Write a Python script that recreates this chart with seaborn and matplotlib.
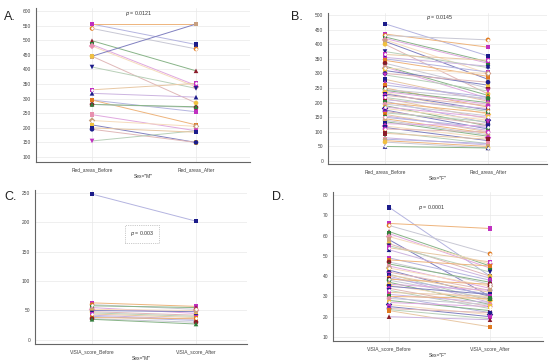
#!/usr/bin/env python3
"""
Paired before/after plots (Red areas, VISIA score) split by sex - 4 panels
"""

import numpy as np
import pandas as pd
import matplotlib
matplotlib.use('Agg')
import matplotlib.pyplot as plt
import seaborn as sns

# Panel A: Red areas, Sex = M
A_before = [555, 555, 540, 498, 485, 480, 445, 445, 408, 330, 318, 295, 295, 280,
            280, 245, 225, 210, 195, 155, 200]
A_after = [485, 555, 470, 395, 345, 340, 555, 285, 335, 352, 305, 255, 210, 270,
           272, 190, 205, 150, 150, 190, 185]

# Panel B: Red areas, Sex = F
B_before = [470, 435, 430, 425, 420, 415, 410, 400, 375, 365, 355, 350, 345, 335,
            325, 322, 318, 310, 300, 295, 280, 270, 260, 250, 245, 242, 238, 235,
            230, 225, 218, 215, 210, 205, 200, 195, 190, 185, 180, 175, 170, 165,
            160, 155, 150, 145, 140, 135, 128, 120, 115, 110, 100, 95, 80, 75, 70,
            65, 50]
B_after = [360, 390, 415, 340, 335, 300, 280, 230, 320, 345, 325, 305, 290, 250,
           225, 215, 300, 260, 270, 240, 205, 210, 220, 185, 215, 200, 195, 160,
           175, 190, 170, 145, 180, 130, 165, 155, 120, 150, 140, 110, 125, 135,
           100, 105, 115, 95, 90, 85, 120, 80, 70, 100, 60, 75, 55, 60, 50, 45, 45]

# Panel C: VISIA score, Sex = M
C_before = [248, 63, 60, 58, 55, 52, 50, 48, 46, 44, 42, 40, 38, 36, 35]
C_after = [202, 57, 52, 55, 45, 50, 48, 42, 40, 38, 35, 33, 36, 30, 27]

# Panel D: VISIA score, Sex = F
D_before = [74, 66, 65, 62, 61, 59.5, 58, 56, 55, 54, 53, 49, 48, 47, 46, 45, 44,
            43, 42, 41, 40.5, 40, 39, 38.5, 38, 37, 36, 35.5, 35, 34, 33, 32, 31,
            30, 30, 29, 28, 27, 26, 25, 24, 23.5, 23, 20]
D_after = [40, 63.5, 51, 45, 44, 46, 30, 40, 42, 47, 39, 38, 45, 36, 37, 34, 35,
           30, 33, 28, 32, 27, 31, 36, 29, 26, 33, 28, 31, 25, 24, 30, 27, 22, 29,
           26, 23, 25, 21, 20, 22, 19, 15, 18.5]

P_VALUES = ['0.0121', '0.0145', '0.003', '0.0001']

# Style cycles (MedCalc-like)
MARK_COLORS = ['#1c1c8a', '#c030c0', '#e07a20', '#8a1c2a', '#2f7f3a', '#e890b0',
               '#c8a080', '#f0c040', '#1c1c8a', '#c030c0']
LINE_COLORS = ['#b4b4e0', '#eeb47c', '#c8c8d4', '#88b488', '#e0a8e0', '#f6dcbc',
               '#8080c0', '#e0b8b8', '#b8d0b8', '#e8c8a4', '#ccb4e0']
MARKERS = ['s', 's', 'o', '^', 's', 'D', 's', 'o', 'v', 's', '^']

W, H = 550, 363


def px_axes(left, right, top, bottom):
    return [left / W, 1 - bottom / H, (right - left) / W, (bottom - top) / H]


def draw_panel(fig, box, before, after, labels, sex, ylim, yticks, xpix, p_text, p_pos, boxed=False):
    left, right, top, bottom = box
    ax = fig.add_axes(px_axes(left, right, top, bottom))
    n = len(before)
    names = [f'S{i:02d}' for i in range(n)]
    df = pd.DataFrame({
        'subject': names * 2,
        'x': [0] * n + [1] * n,
        'value': list(before) + list(after),
    })

    sns.lineplot(data=df, x='x', y='value', hue='subject', units='subject',
                 estimator=None, palette=[LINE_COLORS[i % len(LINE_COLORS)] for i in range(n)],
                 lw=0.7, legend=False, ax=ax, zorder=2)
    sns.scatterplot(data=df, x='x', y='value', hue='subject', style='subject',
                    markers=[MARKERS[i % len(MARKERS)] for i in range(n)],
                    palette=[MARK_COLORS[i % len(MARK_COLORS)] for i in range(n)],
                    s=11, linewidth=0, legend=False, ax=ax, zorder=3)
    # a few open circles
    open_df = df[df['subject'].isin(names[2::7])]
    sns.scatterplot(data=open_df, x='x', y='value', color='white', marker='o',
                    s=4, linewidth=0, legend=False, ax=ax, zorder=4)

    # x limits so categories land at the reference pixel positions
    x0, x1 = xpix
    step = x1 - x0
    ax.set_xlim(-(x0 - left) / step, 1 + (right - x1) / step)
    ax.set_ylim(*ylim)
    ax.set_xticks([0, 1])
    ax.set_xticklabels(labels)
    ax.set_yticks(yticks)
    ax.set_xlabel(f'Sex="{sex}"', fontsize=3.5, labelpad=1.5, color='#333333')
    ax.set_ylabel('')
    ax.grid(True, color='#e9e9e9', lw=0.5)
    ax.set_axisbelow(True)
    for s in ['top', 'right']:
        ax.spines[s].set_visible(False)
    for s in ['left', 'bottom']:
        ax.spines[s].set_color('#666666')
        ax.spines[s].set_linewidth(0.8)
    ax.tick_params(length=2, width=0.5, labelsize=3.5, pad=1.5, colors='#444444')

    bbox = None
    if boxed:
        bbox = dict(boxstyle='square,pad=0.9', fc='none', ec='#999999', ls=':', lw=0.5)
    fig.text(p_pos[0] / W, 1 - p_pos[1] / H, r'$\it{p}$ = ' + p_text, fontsize=3.8,
             ha='center', va='center', color='#333333', bbox=bbox)
    return ax


def main():
    sns.set_style('white')
    plt.rcParams['font.family'] = ['Liberation Sans', 'DejaVu Sans']

    fig = plt.figure(figsize=(W / 100, H / 100), dpi=100)

    draw_panel(fig, (36, 250, 8, 162), A_before, A_after,
               ['Red_areas_Before', 'Red_areas_After'], 'M', (83, 610),
               np.arange(100, 601, 50), (92, 196), P_VALUES[0], (139, 13))
    draw_panel(fig, (328, 547, 13, 164), B_before, B_after,
               ['Red_areas_Before', 'Red_areas_After'], 'F', (-10, 507),
               np.arange(0, 501, 50), (385, 488), P_VALUES[1], (440, 18))
    draw_panel(fig, (35, 247, 190, 344), C_before, C_after,
               ['VISIA_score_Before', 'VISIA_score_After'], 'M', (-7, 255),
               np.arange(0, 251, 50), (92, 196), P_VALUES[2], (142, 234), boxed=True)
    draw_panel(fig, (333, 543, 192, 341), D_before, D_after,
               ['VISIA_score_Before', 'VISIA_score_After'], 'F', (8, 81.5),
               np.arange(10, 81, 10), (389, 490), P_VALUES[3], (432, 208))

    for lab, x, y in [('A.', 4, 17), ('B.', 291, 17), ('C.', 4, 197), ('D.', 272, 197)]:
        fig.text(x / W, 1 - y / H, lab, fontsize=9, ha='left', va='center', color='#222222')

    fig.savefig('out.png', dpi=100, facecolor='white')
    plt.close(fig)


if __name__ == '__main__':
    main()
